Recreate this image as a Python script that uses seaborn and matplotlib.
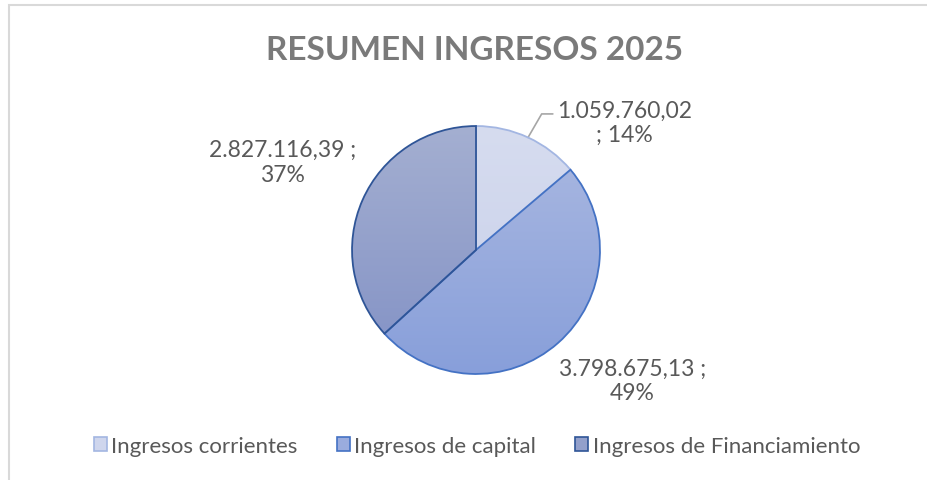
import matplotlib
matplotlib.use('Agg')
import matplotlib.pyplot as plt
import matplotlib.colors as mcolors
from matplotlib.patches import Rectangle, Patch
import numpy as np
import seaborn as sns

# Datos del gráfico
categorias = ['Ingresos corrientes', 'Ingresos de capital', 'Ingresos de Financiamiento']
valores = [1059760.02, 3798675.13, 2827116.39]
etiquetas = ['1.059.760,02\n; 14%', '3.798.675,13 ;\n49%', '2.827.116,39 ;\n37%']

# Colores (arriba / abajo del degradado y borde)
color_sup = ['#D6DCEF', '#ABB9E1', '#A4AFD1']
color_inf = ['#C7CFEA', '#889FDA', '#8291C5']
color_borde = ['#A3B6E2', '#4472C4', '#2F5597']

sns.set_style('white')
plt.rcParams['font.family'] = ['Lato', 'DejaVu Sans']
gris = '#595959'

fig = plt.figure(figsize=(9.28, 4.81), dpi=100)

# Marco del área del gráfico
fig.patches.append(Rectangle((9 / 928, -0.2), 2, 1.2 - 6 / 481, transform=fig.transFigure,
                             fill=False, edgecolor='#D9D9D9', linewidth=1.5))

# Ejes de la torta (centro 476,251 px; radio ~124 px)
lado = 300
ax = fig.add_axes([(476 - lado / 2) / 928, (481 - 251 - lado / 2) / 481, lado / 928, lado / 481])
wedges, _ = ax.pie(valores, startangle=90, counterclock=False, radius=1,
                   wedgeprops=dict(linewidth=1.3))
for w, c1, c2, cb in zip(wedges, color_sup, color_inf, color_borde):
    w.set_facecolor('none')
    w.set_edgecolor(cb)
    w.set_zorder(3)
    cmap = mcolors.LinearSegmentedColormap.from_list('g', [c1, c2])
    grad = np.linspace(0, 1, 256).reshape(-1, 1)
    im = ax.imshow(grad, cmap=cmap, extent=[-1, 1, -1, 1], origin='upper',
                   aspect='auto', zorder=2)
    im.set_clip_path(w)
ax.set_xlim(-1.21, 1.21)
ax.set_ylim(-1.21, 1.21)
ax.set_aspect('equal')
ax.axis('off')

# Etiquetas de datos
pos = [(1.2, 1.03), (1.26, -1.05), (-1.56, 0.71)]
for (x, y), txt in zip(pos, etiquetas):
    ax.text(x, y, txt, ha='center', va='center', fontsize=16.5, color=gris,
            linespacing=1.2, clip_on=False)

# Línea guía de la primera etiqueta
ang = np.deg2rad(90 - 360 * valores[0] / sum(valores) / 2)
x0, y0 = np.cos(ang), np.sin(ang)
ax.plot([x0, x0 + 0.11, x0 + 0.2], [y0, y0 + 0.19, y0 + 0.19], color='#A6A6A6',
        linewidth=1.2, clip_on=False)

# Título
fig.text(475 / 928, 1 - 50 / 481, 'RESUMEN INGRESOS 2025', ha='center', va='center',
         fontsize=24, fontweight='bold', color='#7A7A7A')

# Leyenda
handles = [Patch(facecolor=(np.array(mcolors.to_rgb(a)) + np.array(mcolors.to_rgb(b))) / 2,
                 edgecolor=cb, linewidth=1.2)
           for a, b, cb in zip(color_sup, color_inf, color_borde)]
leg = fig.legend(handles, categorias, loc='center', bbox_to_anchor=(477 / 928, 1 - 447 / 481),
                 ncol=3, frameon=False, fontsize=16, handlelength=0.6, handleheight=0.6,
                 handletextpad=0.2, columnspacing=1.75)
for t in leg.get_texts():
    t.set_color(gris)

fig.savefig('out.png', dpi=100)
